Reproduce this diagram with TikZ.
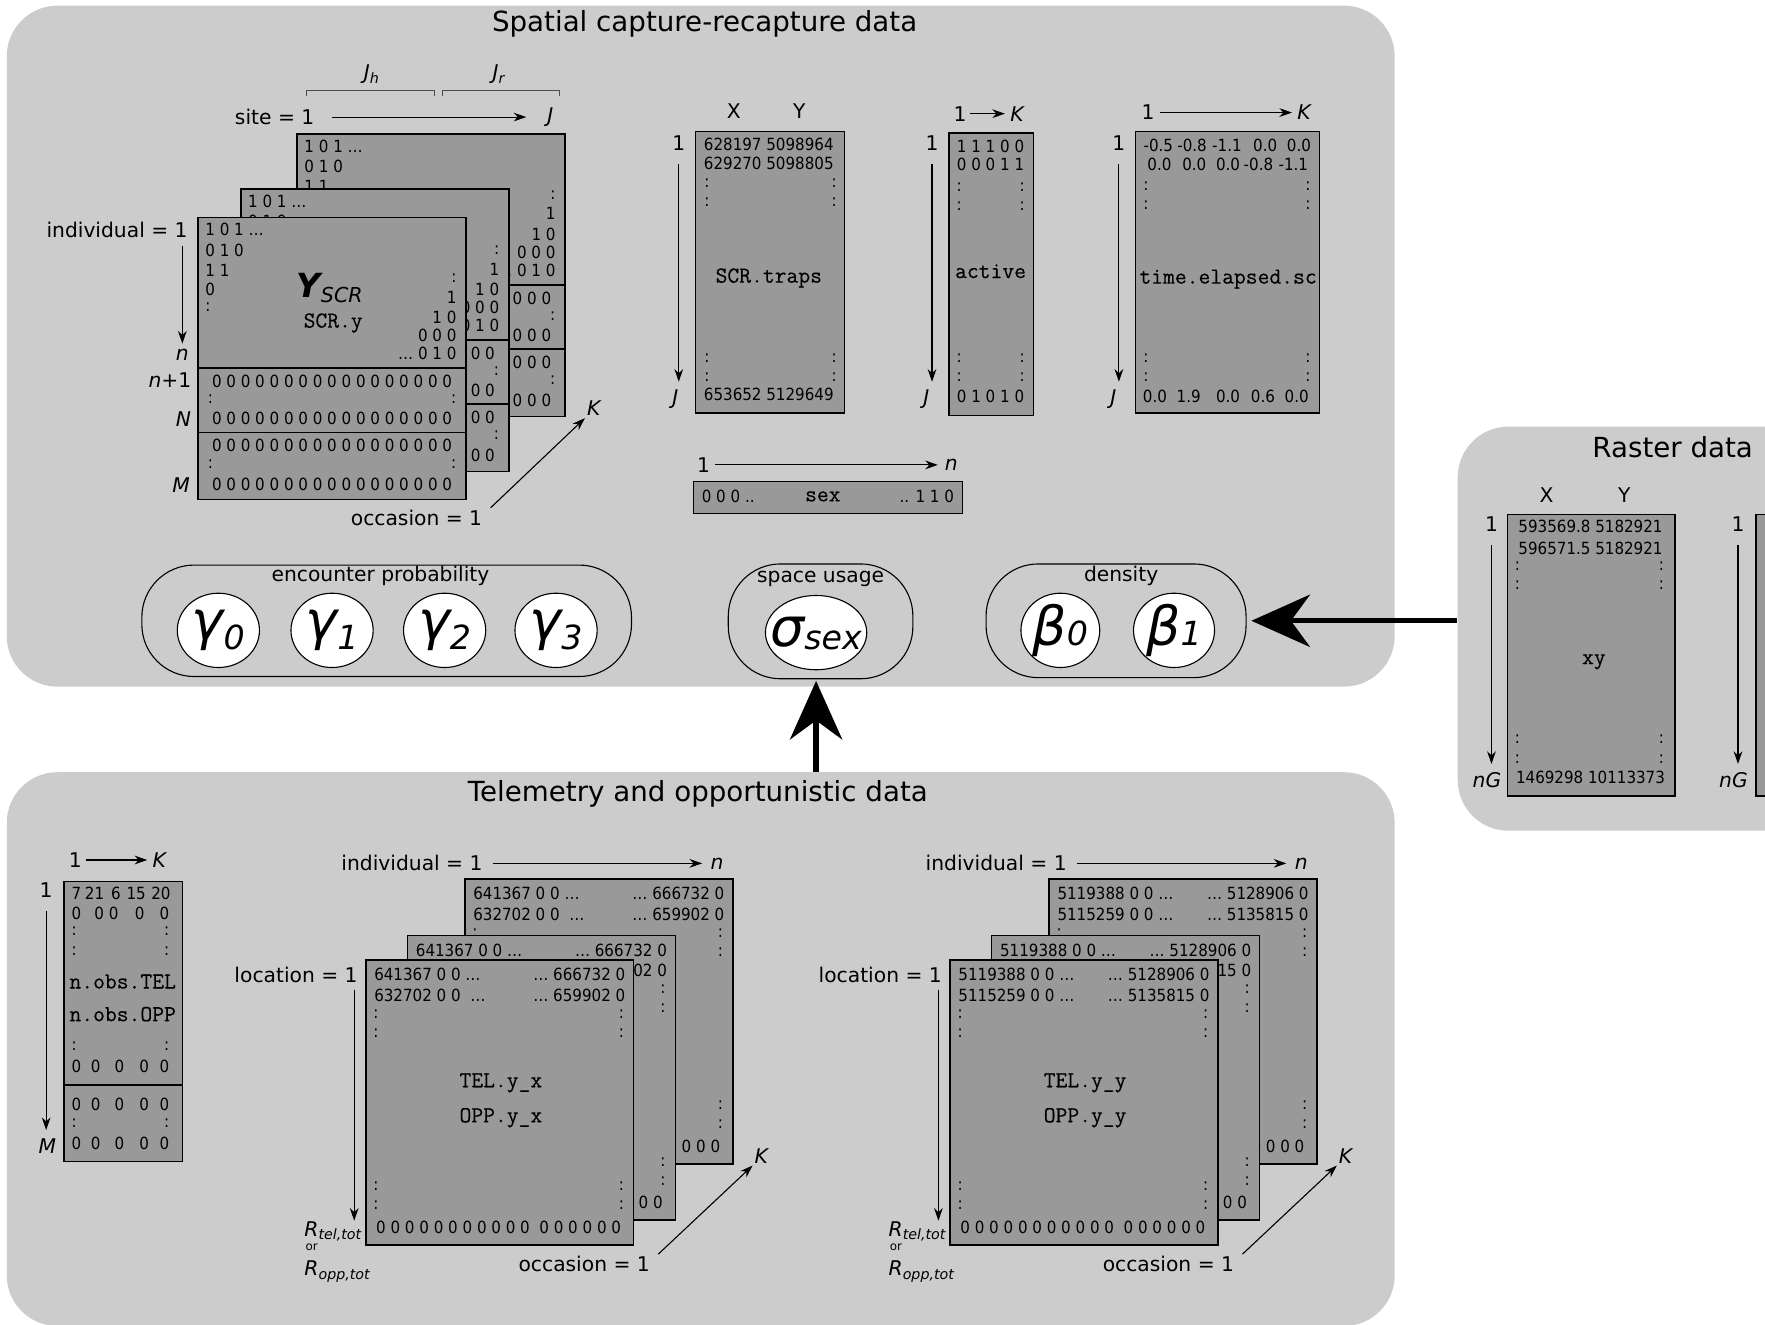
\documentclass[tikz,border=0pt]{standalone}
\usepackage{fontspec}
\setmainfont{DejaVu Sans}
\newfontfamily\numfont[FakeStretch=0.9]{DejaVu Sans}
\newfontfamily\vnfont[FakeBold=0.3]{Latin Modern Mono}
\usetikzlibrary{arrows.meta}
\usetikzlibrary{shapes.geometric}
\usetikzlibrary{calc}

\definecolor{panelgray}{HTML}{CCCCCC}
\definecolor{matgray}{HTML}{999999}

\newcommand{\pxl}{0.025cm}
\newcommand{\numsz}{\numfont\fontsize{10.6}{12}\selectfont}
\newcommand{\labsz}{\fontsize{12.8}{15}\selectfont}
\newcommand{\ttsz}{\vnfont\fontsize{14.5}{16}\selectfont}
\newcommand{\titlesz}{\fontsize{17.5}{20}\selectfont}
\newcommand{\lowsub}[1]{\raisebox{-2.5pt}{\fontsize{9}{9}\selectfont\itshape #1}}
% #1 drop of the symbol, #2 symbol, #3 index, #4 drop of the index
\newcommand{\parlab}[4]{\makebox[0pt]{\raisebox{#1}[0pt][0pt]{{\fontsize{34}{34}\selectfont\itshape #2}\raisebox{#4}{\fontsize{21}{21}\selectfont\itshape #3}}}}

% one occasion layer of the SCR array
\newcommand{\scrlayer}[3]{%
\begin{scope}[shift={(#1,#2)}]
 \draw[mat] (176,193) rectangle (414,444);
 \draw[line width=0.9pt] (176,327) -- (414,327) (176,384) -- (414,384);
 \foreach \y/\t [count=\i] in {204/1 0 1 …, 222/0 1 0, 240/1 1, 257/0, 273/:}
  \node[num, anchor=west] (#3l\i) at (182,\y) {\t};
 \foreach \y/\t [count=\i] in {247/:, 264/1, 282/1 0, 298/0 0 0, 314/… 0 1 0}
  \node[num, anchor=east] (#3r\i) at (406,\y) {\t};
 \foreach \y [count=\i] in {339,372,396,430}
  \node[num] (#3z\i) at (295,\y) {0 0 0 0 0 0 0 0 0 0 0 0 0 0 0 0 0};
 \foreach \y [count=\i] in {355,412} {
  \node[num] (#3cl\i) at (187,\y) {:};
  \node[num] (#3cr\i) at (403,\y) {:};
 }
\end{scope}}

% one occasion layer of the telemetry arrays
\newcommand{\tellayer}[7]{%
\begin{scope}[shift={(#1,#2)}]
 \draw[mat] (325,853) rectangle (563,1106);
 \node[num, anchor=west] (#3a) at (332,866) {#4};
 \node[num, anchor=west] (#3b) at (332,884) {#5};
 \node[num, anchor=east] (#3c) at (556,866) {#6};
 \node[num, anchor=east] (#3d) at (556,884) {#7};
 \foreach \y [count=\i] in {901,918,1054,1071} {
  \node[num] (#3cl\i) at (334,\y) {:};
  \node[num] (#3cr\i) at (552,\y) {:};
 }
 \node[num] (#3z) at (443,1090) {0 0 0 0 0 0 0 0 0 0 0\ \ 0 0 0 0 0 0};
\end{scope}}

\newcommand{\telstack}[8]{%
\begin{scope}[shift={(#1,0)}]
 \tellayer{88}{-72}{#2b}{#3}{#4}{#5}{#6}
 \tellayer{37}{-22}{#2m}{#3}{#4}{#5}{#6}
 \tellayer{0}{0}{#2f}{#3}{#4}{#5}{#6}
 \node[vname] (#2na) at (445,962) {#7};
 \node[vname] (#2nb) at (445,993) {#8};
 \node[lab] (#2ind) at (366,767) {individual = 1};
 \node[lab] (#2n) at (637,767) {\textit{n}};
 \draw[->, shorten <=5pt, shorten >=4pt] (#2ind.east) -- (#2n.west);
 \node[lab] (#2loc) at (263,866) {location = 1};
 \node[lab, anchor=west, inner sep=0pt] (#2rt) at (270,1094) {\textit{R}\lowsub{tel,tot}};
 \node[font=\fontsize{7.5}{8}\selectfont, anchor=west, inner sep=0pt] (#2or) at (271,1108) {or};
 \node[lab, anchor=west, inner sep=0pt] (#2ro) at (270,1130) {\textit{R}\lowsub{opp,tot}};
 \coordinate (#2la) at ([xshift=-3.5pt]#2loc.south east);
 \draw[->, shorten <=3pt] (#2la) -- (#2la |- #2rt.north);
 \node[lab] (#2occ) at (519,1123) {occasion = 1};
 \node[lab] (#2K) at (677,1027) {\textit{K}};
 \draw[->] ([xshift=4pt]#2occ.north east) -- (#2K.south west);
\end{scope}}

\begin{document}
\begin{tikzpicture}[x=0.025cm, y=-0.025cm, line width=0.7pt,
  >={Stealth[length=8pt,width=5.5pt]},
  panel/.style={fill=panelgray, rounded corners=32pt, inner sep=0pt},
  mat/.style={draw, fill=matgray, line width=0.9pt},
  num/.style={font=\numsz, inner sep=0pt},
  lab/.style={font=\labsz, inner sep=1pt},
  vname/.style={font=\ttsz, inner sep=0pt},
  paneltitle/.style={font=\titlesz, inner sep=0pt},
  pill/.style={draw, rounded corners=33pt, inner sep=0pt},
  param/.style={ellipse, draw, fill=white, inner sep=0pt, minimum height=66*\pxl},
  bigarrow/.style={line width=3.3pt, -{Stealth[length=37pt,width=33pt]}},
  bracket/.style={draw=black!70, line width=0.6pt}]
\useasboundingbox (0,0) rectangle (1568,1177);
\clip (0,0) rectangle (1568,1177);

% panels
\node[panel, minimum width=1233*\pxl, minimum height=605*\pxl] (scrpanel) at (622.5,307.5) {};
\node[panel, minimum width=1233*\pxl, minimum height=492*\pxl] (telpanel) at (622.5,932) {};
\node[panel, minimum width=382*\pxl, minimum height=359*\pxl] (rastpanel) at (1486,558.5) {};
\node[paneltitle] (scrtitle) at (626,21) {Spatial capture-recapture data};
\node[paneltitle] (teltitle) at (620,705) {Telemetry and opportunistic data};
\node[paneltitle] (rasttitle) at (1486,397) {Raster data};

% SCR array
\scrlayer{88}{-74}{bk}
\scrlayer{38}{-25}{md}
\scrlayer{0}{0}{fr}
\node (yscr) at (293,256) {\fontsize{21}{21}\selectfont\bfseries\itshape Y\raisebox{-3pt}{\normalfont\itshape\fontsize{13}{13}\selectfont SCR}};
\node[vname] (scry) at (296,287) {SCR.y};
\node[lab] (ind) at (104,204) {individual = 1};
\node[lab] (nrow) at (162,315) {\textit{n}};
\node[lab] (n1row) at (151,338) {\textit{n}+1};
\node[lab] (Nrow) at (163,372) {\textit{N}};
\node[lab] (Mrow) at (161,431) {\textit{M}};
\draw[->, shorten <=4pt, shorten >=2pt] (nrow |- ind.south) -- (nrow.north);
\node[lab] (site) at (244,104) {site = 1};
\node[lab] (Jsite) at (489,104) {\textit{J}};
\draw[->, shorten <=10pt, shorten >=12pt] (site.east) -- (Jsite.west);
\draw[bracket] (272,85) -- (272,80) -- (386,80) -- (386,85);
\draw[bracket] (393,85) -- (393,80) -- (497,80) -- (497,85);
\node[lab] (Jh) at (330,66) {\textit{J}\lowsub{h}};
\node[lab] (Jr) at (443,66) {\textit{J}\lowsub{r}};
\node[lab] (occ) at (370,460) {occasion = 1};
\node[lab] (Kocc) at (528,363) {\textit{K}};
\draw[->] ([xshift=4pt]occ.north east) -- (Kocc.south west);

% trap coordinates
\draw[mat] (618,117) rectangle (750,367);
\node[lab] (trX) at (652,99) {X};
\node[lab] (trY) at (710,99) {Y};
\node[lab] (tr1) at (603,127) {1};
\node[lab] (trJ) at (600,355) {\textit{J}};
\draw[->, shorten <=7pt, shorten >=4pt] (tr1.south) -- (tr1.south |- trJ.north);
\node[num] (tra) at (683,128) {628197 5098964};
\node[num] (trb) at (683,145) {629270 5098805};
\node[num] (trc) at (683,350) {653652 5129649};
\foreach \y [count=\i] in {163,180,318,335} {
 \node[num] (trcl\i) at (628,\y) {:};
 \node[num] (trcr\i) at (741,\y) {:};
}
\node[vname] (traps) at (683,247) {SCR.traps};

% active
\draw[mat] (843,118) rectangle (918,369);
\node[lab] (ac1) at (853,101) {1};
\node[lab] (acK) at (904,101) {\textit{K}};
\draw[->, shorten <=1pt, shorten >=2pt] (ac1.east) -- (acK.west);
\node[lab] (acr1) at (828,127) {1};
\node[lab] (acJ) at (823,355) {\textit{J}};
\draw[->, shorten <=7pt, shorten >=4pt] (acr1.south) -- (acr1.south |- acJ.north);
\node[num] (aca) at (880,130) {1 1 1 0 0};
\node[num] (acb) at (880,146) {0 0 0 1 1};
\node[num] (acc) at (880,352) {0 1 0 1 0};
\foreach \y [count=\i] in {166,183,318,335} {
 \node[num] (accl\i) at (852,\y) {:};
 \node[num] (accr\i) at (908,\y) {:};
}
\node[vname] (active) at (880,241) {active};

% time elapsed
\draw[mat] (1009,117) rectangle (1172,367);
\node[lab] (te1) at (1020,100) {1};
\node[lab] (teK) at (1159,100) {\textit{K}};
\draw[->, shorten <=2pt, shorten >=2pt] (te1.east) -- (teK.west);
\node[lab] (ter1) at (994,127) {1};
\node[lab] (teJ) at (989,355) {\textit{J}};
\draw[->, shorten <=7pt, shorten >=4pt] (ter1.south) -- (ter1.south |- teJ.north);
\foreach \x/\v [count=\i] in {1029/-0.5,1059/-0.8,1090/-1.1,1124/0.0,1154/0.0}
 \node[num] (tea\i) at (\x,129) {\v};
\foreach \x/\v [count=\i] in {1030/0.0,1061/0.0,1091/0.0,1118/-0.8,1149/-1.1}
 \node[num] (teb\i) at (\x,146) {\v};
\foreach \x/\v [count=\i] in {1026/0.0,1056/1.9,1091/0.0,1122/0.6,1152/0.0}
 \node[num] (tec\i) at (\x,352) {\v};
\foreach \y [count=\i] in {165,182,318,335} {
 \node[num] (tecl\i) at (1018,\y) {:};
 \node[num] (tecr\i) at (1162,\y) {:};
}
\node[vname] (telapsed) at (1091,248) {time.elapsed.sc};

% sex
\draw[mat] (616,428) rectangle (855,456);
\node[lab] (sx1) at (625,413) {1};
\node[lab] (sxn) at (845,413) {\textit{n}};
\draw[->, shorten <=2pt, shorten >=3pt] (sx1.east) -- (sxn.west);
\node[num, anchor=west] (sxa) at (623,441) {0 0 0 ..};
\node[vname] (sex) at (731,441) {sex};
\node[num, anchor=east] (sxb) at (848,441) {.. 1 1 0};

% parameters
\node[pill, minimum width=435*\pxl, minimum height=99*\pxl] (encpill) at (343.5,551.5) {};
\node[lab] (enclab) at (338,512) {encounter probability};
\foreach \x/\k in {194/0,295/1,395/2,494/3}
 \node[param, minimum width=73*\pxl] (gamma\k) at (\x,560) {\parlab{-6pt}{γ}{\k}{-6pt}};
\node[pill, minimum width=164*\pxl, minimum height=102*\pxl] (sigpill) at (729,552) {};
\node[lab] (siglab) at (729,514) {space usage};
\node[param, minimum width=90*\pxl] (sigma) at (725,562) {\parlab{-9pt}{σ}{sex}{-1.5pt}};
\node[pill, minimum width=231*\pxl, minimum height=101*\pxl] (denspill) at (991.5,551.5) {};
\node[lab] (denslab) at (996,512) {density};
\node[param, minimum width=70*\pxl] (beta0) at (942,560) {\parlab{-9.5pt}{β}{0}{0pt}};
\node[param, minimum width=72*\pxl] (beta1) at (1043,560) {\parlab{-9.5pt}{β}{1}{0pt}};

% raster
\draw[mat] (1339,457) rectangle (1488,707);
\node[lab] (rsX) at (1374,440) {X};
\node[lab] (rsY) at (1443,440) {Y};
\node[lab] (rs1) at (1325,466) {1};
\node[lab] (rsG) at (1321,693) {\textit{nG}};
\draw[->, shorten <=7pt, shorten >=4pt] (rs1.south) -- (rs1.south |- rsG.north);
\node[num] (rsa) at (1413,468) {593569.8 5182921};
\node[num] (rsb) at (1413,487) {596571.5 5182921};
\node[num] (rsc) at (1413,691) {1469298 10113373};
\foreach \y [count=\i] in {503,520,657,674} {
 \node[num] (rscl\i) at (1348,\y) {:};
 \node[num] (rscr\i) at (1476,\y) {:};
}
\node[vname] (xy) at (1416,588) {xy};
\draw[mat] (1560,457) rectangle (1700,707);
\node[lab] (rt1) at (1544,466) {1};
\node[lab] (rtG) at (1540,693) {\textit{nG}};
\draw[->, shorten <=7pt, shorten >=4pt] (rt1.south) -- (rt1.south |- rtG.north);

% number of observations
\draw[mat] (57,783) rectangle (162,1032);
\draw[line width=0.9pt] (57,964) -- (162,964);
\node[lab] (ob1) at (67,764) {1};
\node[lab] (obK) at (142,764) {\textit{K}};
\draw[->, shorten <=1pt, shorten >=2pt] (ob1.east) -- (obK.west);
\node[lab] (obr1) at (41,791) {1};
\node[lab] (obM) at (42,1018) {\textit{M}};
\draw[->, shorten <=7pt, shorten >=4pt] (obr1.south) -- (obr1.south |- obM.north);
\foreach \x/\v [count=\i] in {68/7,84/21,103/6,121/15,143/20}
 \node[num] (oba\i) at (\x,794) {\v};
\foreach \x [count=\i] in {68,88,101,124,146}
 \node[num] (obb\i) at (\x,811) {0};
\foreach \y [count=\j] in {947,981,1016}
 \foreach \x [count=\i] in {68,85,106,128,146}
  \node[num] (obz\j\i) at (\x,\y) {0};
\foreach \y [count=\i] in {827,845,929,998} {
 \node[num] (obcl\i) at (66,\y) {:};
 \node[num] (obcr\i) at (148,\y) {:};
}
\node[vname] (obtel) at (109,872) {n.obs.TEL};
\node[vname] (obopp) at (109,901) {n.obs.OPP};

% telemetry arrays
\telstack{0}{tx}{641367 0 0 …}{632702 0 0 \ …}{… 666732 0}{… 659902 0}{TEL.y\_x}{OPP.y\_x}
\telstack{519}{ty}{5119388 0 0 …}{5115259 0 0 …}{… 5128906 0}{… 5135815 0}{TEL.y\_y}{OPP.y\_y}

% links between data sets
\draw[bigarrow, shorten >=3pt] (denspill.east -| rastpanel.west) -- (denspill.east);
\draw[bigarrow, shorten >=1pt] (telpanel.north -| sigma.south) -- (sigma.south |- sigpill.south);
\end{tikzpicture}
\end{document}
